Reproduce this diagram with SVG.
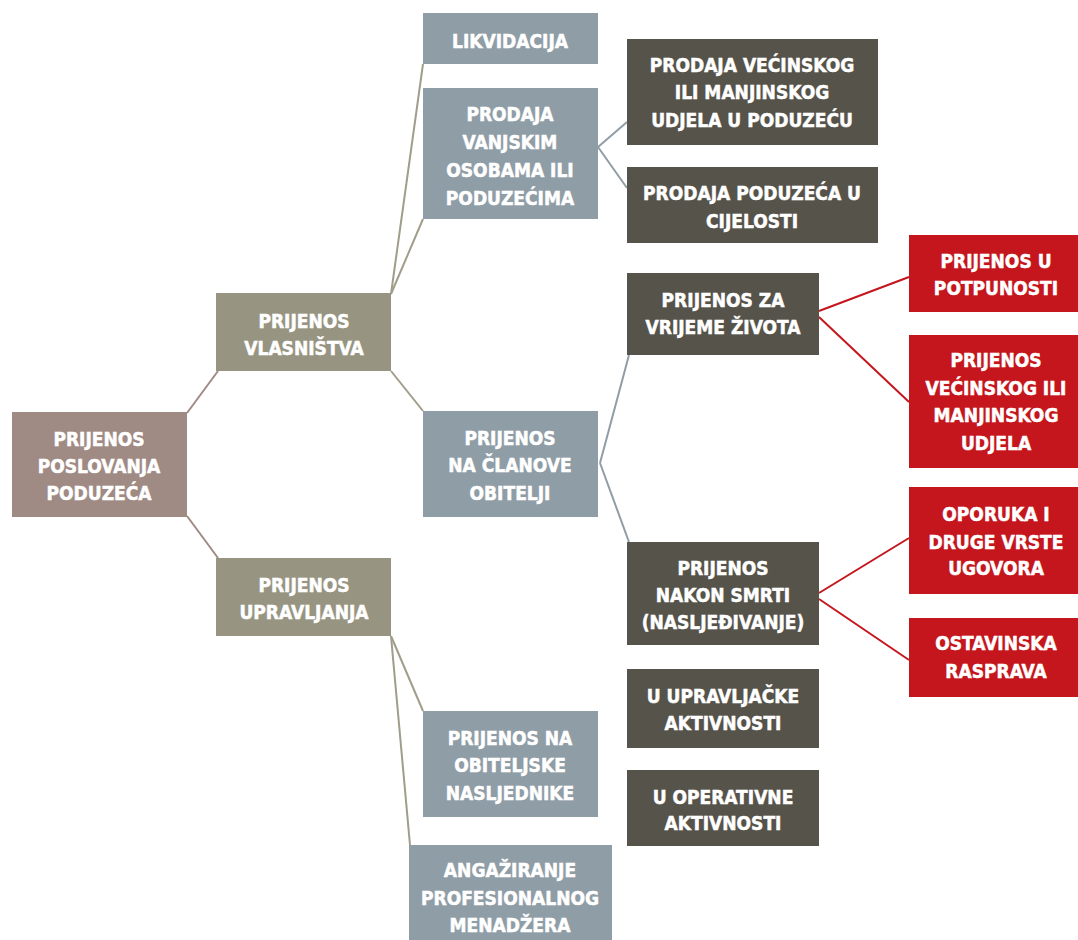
<svg xmlns="http://www.w3.org/2000/svg" width="1078" height="940" viewBox="0 0 1078 940">
<style>
text{font-family:"DejaVu Sans Condensed","DejaVu Sans","Liberation Sans",sans-serif;font-weight:bold;font-size:19px;fill:#ffffff;stroke:#ffffff;stroke-width:0.5;text-anchor:middle}
.root{fill:#a08a84}
.l1{fill:#979582}
.blue{fill:#8f9da6}
.dark{fill:#56534a}
.red{fill:#c4161c}
.c{fill:none;stroke-width:2}
.cr{stroke:#a08a84}
.ck{stroke:#a09d8a}
.cb{stroke:#8f9da6}
.cred{stroke:#c4161c}
</style>
<rect width="1078" height="940" fill="#ffffff"/>
<g id="connectors" class="c">
<line class="cr" x1="187" y1="413" x2="218" y2="371"/>
<line class="cr" x1="187" y1="516" x2="218" y2="558"/>
<line class="ck" x1="391" y1="294" x2="423" y2="64"/>
<line class="ck" x1="391" y1="294" x2="423" y2="219"/>
<line class="ck" x1="391" y1="371" x2="423" y2="411"/>
<line class="ck" x1="391" y1="636" x2="423" y2="711"/>
<line class="ck" x1="391" y1="636" x2="410" y2="845"/>
<line class="cb" x1="598" y1="147" x2="627" y2="122"/>
<line class="cb" x1="598" y1="147" x2="627" y2="188"/>
<line class="cb" x1="600" y1="463" x2="629" y2="355"/>
<line class="cb" x1="600" y1="463" x2="629" y2="542"/>
<line class="cred" x1="819" y1="311" x2="909" y2="277"/>
<line class="cred" x1="819" y1="317" x2="909" y2="402"/>
<line class="cred" x1="819" y1="593" x2="909" y2="538"/>
<line class="cred" x1="819" y1="599" x2="909" y2="660"/>
</g>
<g id="n-root"><rect class="root" x="12" y="412" width="175" height="105"/>
<text x="99" y="446">PRIJENOS</text><text x="99" y="473">POSLOVANJA</text><text x="99" y="500">PODUZEĆA</text></g>
<g id="n-vlasnistva"><rect class="l1" x="216" y="293" width="175" height="78"/>
<text x="304" y="328">PRIJENOS</text><text x="304" y="355">VLASNIŠTVA</text></g>
<g id="n-upravljanja"><rect class="l1" x="216" y="558" width="175" height="78"/>
<text x="304" y="592">PRIJENOS</text><text x="304" y="619">UPRAVLJANJA</text></g>
<g id="n-likvidacija"><rect class="blue" x="423" y="13" width="175" height="51"/>
<text x="510" y="48">LIKVIDACIJA</text></g>
<g id="n-prodaja-vanjskim"><rect class="blue" x="423" y="88" width="175" height="131"/>
<text x="510" y="121">PRODAJA</text><text x="510" y="149">VANJSKIM</text><text x="510" y="177">OSOBAMA ILI</text><text x="510" y="205">PODUZEĆIMA</text></g>
<g id="n-clanove"><rect class="blue" x="423" y="411" width="175" height="106"/>
<text x="510" y="445">PRIJENOS</text><text x="510" y="472">NA ČLANOVE</text><text x="510" y="500">OBITELJI</text></g>
<g id="n-nasljednike"><rect class="blue" x="423" y="711" width="175" height="106"/>
<text x="510" y="745">PRIJENOS NA</text><text x="510" y="772">OBITELJSKE</text><text x="510" y="800">NASLJEDNIKE</text></g>
<g id="n-angaziranje"><rect class="blue" x="409" y="845" width="203" height="100"/>
<text x="510" y="877">ANGAŽIRANJE</text><text x="510" y="905">PROFESIONALNOG</text><text x="510" y="932">MENADŽERA</text></g>
<g id="n-prodaja-vecinskog"><rect class="dark" x="627" y="39" width="251" height="106"/>
<text x="752" y="72">PRODAJA VEĆINSKOG</text><text x="752" y="99">ILI MANJINSKOG</text><text x="752" y="127">UDJELA U PODUZEĆU</text></g>
<g id="n-prodaja-cijelosti"><rect class="dark" x="627" y="167" width="251" height="76"/>
<text x="752" y="200">PRODAJA PODUZEĆA U</text><text x="752" y="228">CIJELOSTI</text></g>
<g id="n-zivota"><rect class="dark" x="627" y="273" width="192" height="82"/>
<text x="723" y="307">PRIJENOS ZA</text><text x="723" y="334">VRIJEME ŽIVOTA</text></g>
<g id="n-smrti"><rect class="dark" x="627" y="542" width="192" height="103"/>
<text x="723" y="575">PRIJENOS</text><text x="723" y="602">NAKON SMRTI</text><text x="723" y="629">(NASLJEĐIVANJE)</text></g>
<g id="n-upravljacke"><rect class="dark" x="627" y="669" width="192" height="79"/>
<text x="723" y="703">U UPRAVLJAČKE</text><text x="723" y="730">AKTIVNOSTI</text></g>
<g id="n-operativne"><rect class="dark" x="627" y="770" width="192" height="76"/>
<text x="723" y="804">U OPERATIVNE</text><text x="723" y="830">AKTIVNOSTI</text></g>
<g id="n-potpunosti"><rect class="red" x="909" y="235" width="176" height="77"/>
<text x="996" y="268">PRIJENOS U</text><text x="996" y="295">POTPUNOSTI</text></g>
<g id="n-udjela"><rect class="red" x="909" y="335" width="176" height="133"/>
<text x="996" y="367">PRIJENOS</text><text x="996" y="395">VEĆINSKOG ILI</text><text x="996" y="422">MANJINSKOG</text><text x="996" y="450">UDJELA</text></g>
<g id="n-oporuka"><rect class="red" x="909" y="487" width="176" height="107"/>
<text x="996" y="521">OPORUKA I</text><text x="996" y="549">DRUGE VRSTE</text><text x="996" y="575">UGOVORA</text></g>
<g id="n-ostavinska"><rect class="red" x="909" y="618" width="176" height="79"/>
<text x="996" y="650">OSTAVINSKA</text><text x="996" y="678">RASPRAVA</text></g>
</svg>
